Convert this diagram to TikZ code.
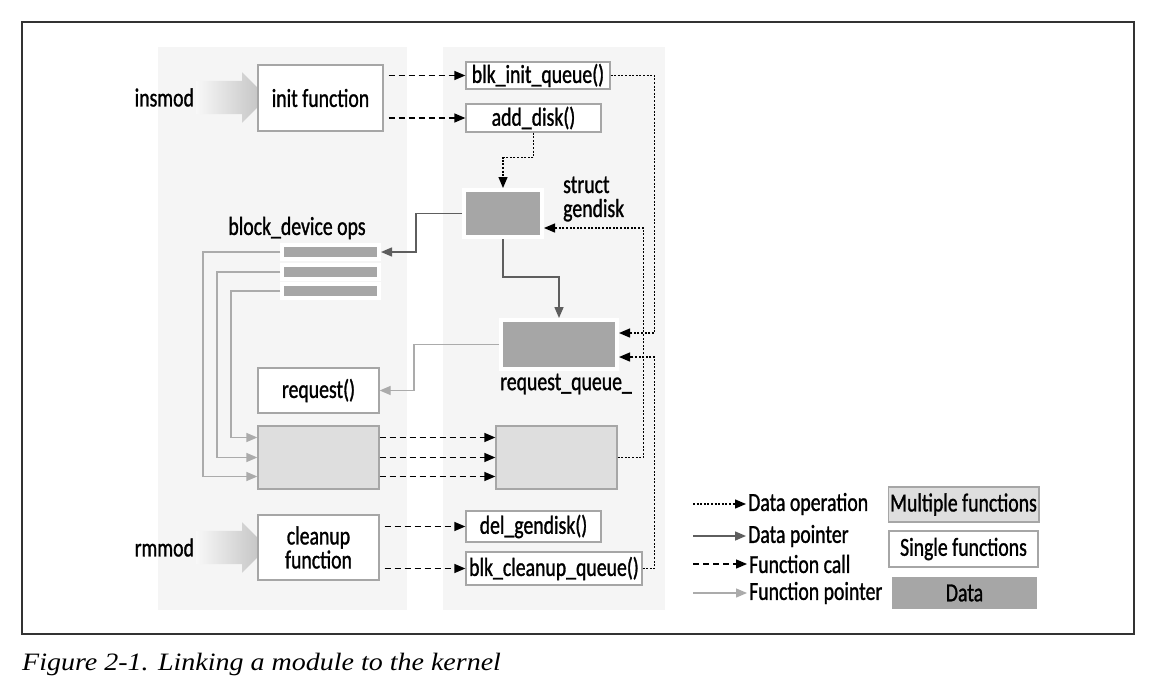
\documentclass[tikz,border=0pt]{standalone}
\usepackage{fontspec}
\setmainfont[FakeStretch=0.76, FakeBold=1.1]{Carlito}
\newfontfamily\capfont[FakeStretch=1.12]{Liberation Serif}
\usetikzlibrary{arrows.meta, shapes.arrows, positioning}
\definecolor{panelgray}{HTML}{F5F5F5}
\definecolor{boxgray}{HTML}{A6A6A6}
\definecolor{multigray}{HTML}{DEDEDE}
\definecolor{datagray}{HTML}{A6A6A6}
\definecolor{ptrgray}{HTML}{5E5E5E}
\definecolor{fpgray}{HTML}{ABABAB}
\begin{document}
\begin{tikzpicture}[x=1pt, y=-1pt,
  every node/.style={font=\fontsize{26pt}{24pt}\selectfont, inner sep=2pt},
  single/.style={draw=boxgray, fill=white, line width=1.3pt},
  multi/.style={draw=boxgray, fill=multigray, line width=1.3pt},
  datab/.style={draw=white, fill=datagray, line width=4pt},
  tip/.style={-{Triangle[length=11pt,width=9pt]}},
  dataop/.style={tip, line width=1.3pt, dash pattern=on 2pt off 1.6pt},
  dataptr/.style={tip, draw=ptrgray, line width=1.5pt},
  fcall/.style={tip, line width=1.3pt, dash pattern=on 6pt off 4pt},
  fptr/.style={tip, draw=fpgray, line width=1.3pt},
  loader/.style={single arrow, draw=none, inner xsep=0pt, inner ysep=16.5pt,
    minimum height=71pt, single arrow head extend=8.5pt,
    left color=gray!6, right color=gray!50}]
\useasboundingbox (0,0) rectangle (1164,688);
\draw[line width=1.2pt, black!80] (22,22) rectangle (1134,634);
\fill[panelgray] (158,47) rectangle (407,610);
\fill[panelgray] (443,47) rectangle (665,610);

\node[loader] (inarr) at (223.5,97.5) {};
\node[left=0pt of inarr] (insmod) {insmod};
\node[single, minimum width=125pt, minimum height=66pt] (init) at (320.5,98) {init function};
\node[single, minimum width=144pt, minimum height=27pt] (blkinit) at (538,75.5) {blk\_init\_queue()};
\node[single, minimum width=135pt, minimum height=28pt] (adddisk) at (533.5,118) {add\_disk()};
\draw[fcall, shorten <=5pt] (init.east |- blkinit.west) -- (blkinit.west);
\draw[fcall, shorten <=5pt] (init.east |- adddisk.west) -- (adddisk.west);

\node[datab, minimum width=78pt, minimum height=47pt] (gendisk) at (503,213.5) {};
\node[anchor=west, align=left] (gdlbl) at (561,199) {struct\\gendisk};
\draw[dataop] (adddisk.south) -- ++(0,25) -| (gendisk.north);

\node (opslbl) at (297,228) {block\_device ops};
\node[datab, minimum width=97pt, minimum height=14pt] (op1) at (330.5,252) {};
\node[datab, minimum width=97pt, minimum height=14pt] (op2) at (330.5,272) {};
\node[datab, minimum width=97pt, minimum height=14pt] (op3) at (330.5,291) {};
\draw[dataptr] (gendisk.west) -- ++(-46,0) |- (op1.east);

\node[datab, minimum width=116pt, minimum height=49pt] (rq) at (559,344.5) {};
\node (rqlbl) at (566,384) {request\_queue\_};
\draw[dataptr] (gendisk.south) -- ++(0,38) -| (rq.north);

\node[single, minimum width=121pt, minimum height=45pt] (request) at (318.5,390.5) {request()};
\draw[fptr] (rq.west) -- ++(-85,0) |- (request.east);

\node[multi, minimum width=121pt, minimum height=63pt] (multl) at (318.5,457.5) {};
\node[multi, minimum width=121pt, minimum height=63pt] (multr) at (556.5,457.5) {};
\draw[fptr] (op1.west) -- ++(-77,0) |- ([yshift=-19pt]multl.west);
\draw[fptr] (op2.west) -- ++(-63,0) |- (multl.west);
\draw[fptr] (op3.west) -- ++(-49,0) |- ([yshift=20pt]multl.west);
\foreach \s in {20,0,-19}
  \draw[fcall] ([yshift=\s pt]multl.east) -- ([yshift=\s pt]multr.west);

\node[loader] (rmarr) at (223.5,547.5) {};
\node[left=0pt of rmarr] (rmmod) {rmmod};
\node[single, minimum width=121pt, minimum height=65pt, align=center] (cleanup) at (318.5,547.5) {cleanup\\function};
\node[single, minimum width=135pt, minimum height=31pt] (delgd) at (533.5,526.5) {del\_gendisk()};
\node[single, minimum width=176pt, minimum height=33pt] (blkclean) at (554,568.5) {blk\_cleanup\_queue()};
\draw[fcall, shorten <=5pt] (cleanup.east |- delgd.west) -- (delgd.west);
\draw[fcall, shorten <=5pt] (cleanup.east |- blkclean.west) -- (blkclean.west);

\draw[dataop] (multr.east) -- ++(26,0) |- ([yshift=-14.5pt]gendisk.east);
\draw[dataop] (blkinit.east) -- ++(44,0) |- ([yshift=11.5pt]rq.east);
\draw[dataop] (blkclean.east) -- ++(12,0) |- ([yshift=-12.5pt]rq.east);

\coordinate (k1) at (693,504);
\coordinate (k2) at (693,536);
\coordinate (k3) at (693,564);
\coordinate (k4) at (693,593);
\node[anchor=west] (kdop) at (746,504) {Data operation};
\node[anchor=west] (kdptr) at (746,536) {Data pointer};
\node[anchor=west] (kfcall) at (747,564) {Function call};
\node[anchor=west] (kfptr) at (747,593) {Function pointer};
\draw[dataop] (k1) -- (kdop.west);
\draw[dataptr] (k2) -- (kdptr.west);
\draw[fcall] (k3) -- (kfcall.west);
\draw[fptr] (k4) -- (kfptr.west);
\node[multi, minimum width=149pt, minimum height=35pt] (kmulti) at (963.5,504.5) {Multiple functions};
\node[single, minimum width=149pt, minimum height=36pt] (ksingle) at (963.5,549) {Single functions};
\node[datab, minimum width=149pt, minimum height=36pt] (kdata) at (964.5,593) {Data};

\node[anchor=base west, inner sep=0pt, font=\capfont\itshape\fontsize{25pt}{28pt}\selectfont] (caption) at (22,670) {Figure 2-1. Linking a module to the kernel};
\end{tikzpicture}
\end{document}
